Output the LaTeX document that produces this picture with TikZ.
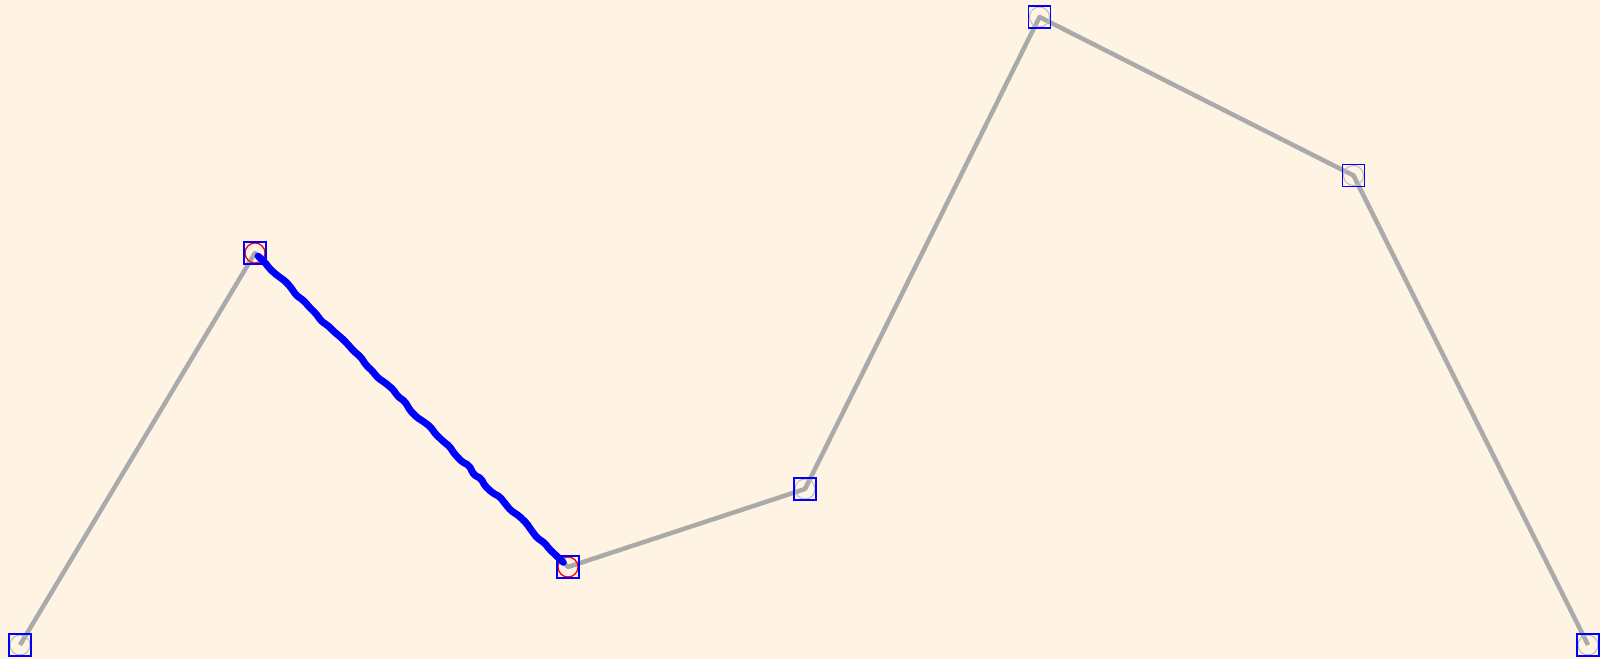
\documentclass[tikz,border=0pt]{standalone}
\usetikzlibrary{decorations.pathmorphing,calc}
\definecolor{bgcol}{HTML}{FFF4E3}
\definecolor{polygray}{HTML}{AAAAAA}
\definecolor{ringgray}{HTML}{BBBBBB}
\tikzset{
  poly/.style={draw=polygray, line width=4.5pt, line join=round},
  handle/.style={draw=blue, line width=1.6pt, minimum size=22pt, inner sep=0pt, outer sep=0pt, shape=rectangle},
  ring/.style={draw=ringgray, line width=1pt, circle, minimum size=20pt, inner sep=0pt},
  selring/.style={draw=red, line width=1.2pt, circle, minimum size=20pt, inner sep=0pt},
  wiggle/.style={draw=blue, line width=7pt, line cap=round, decorate,
    decoration={random steps, segment length=9pt, amplitude=1.6pt}, rounded corners=2pt}
}
\pgfmathsetseed{7}
\begin{document}
\begin{tikzpicture}[x=1pt,y=-1pt]
\fill[bgcol] (0,0) rectangle (1600,659);
\useasboundingbox (0,0) rectangle (1600,659);
\coordinate (p1) at (20,645);
\coordinate (p2) at (255,253);
\coordinate (p3) at (568,567);
\coordinate (p4) at (805,489);
\coordinate (p5) at (1039.5,17);
\coordinate (p6) at (1353.5,175.5);
\coordinate (p7) at (1588,645);
\draw[poly] (p1) -- (p2) -- (p3) -- (p4) -- (p5) -- (p6) -- (p7);
\foreach \p in {p1,p2,p3,p4,p5,p6,p7} {
  \node[ring] (r\p) at (\p) {};
}
\node[selring] (s2) at (p2) {};
\node[selring] (s3) at (p3) {};
\draw[wiggle] ($(p2)!0.01!(p3)$) -- ($(p2)!0.985!(p3)$);
\foreach \p in {p1,p2,p3,p4,p5,p6,p7} {
  \node[handle] (h\p) at (\p) {};
}
\end{tikzpicture}
\end{document}
